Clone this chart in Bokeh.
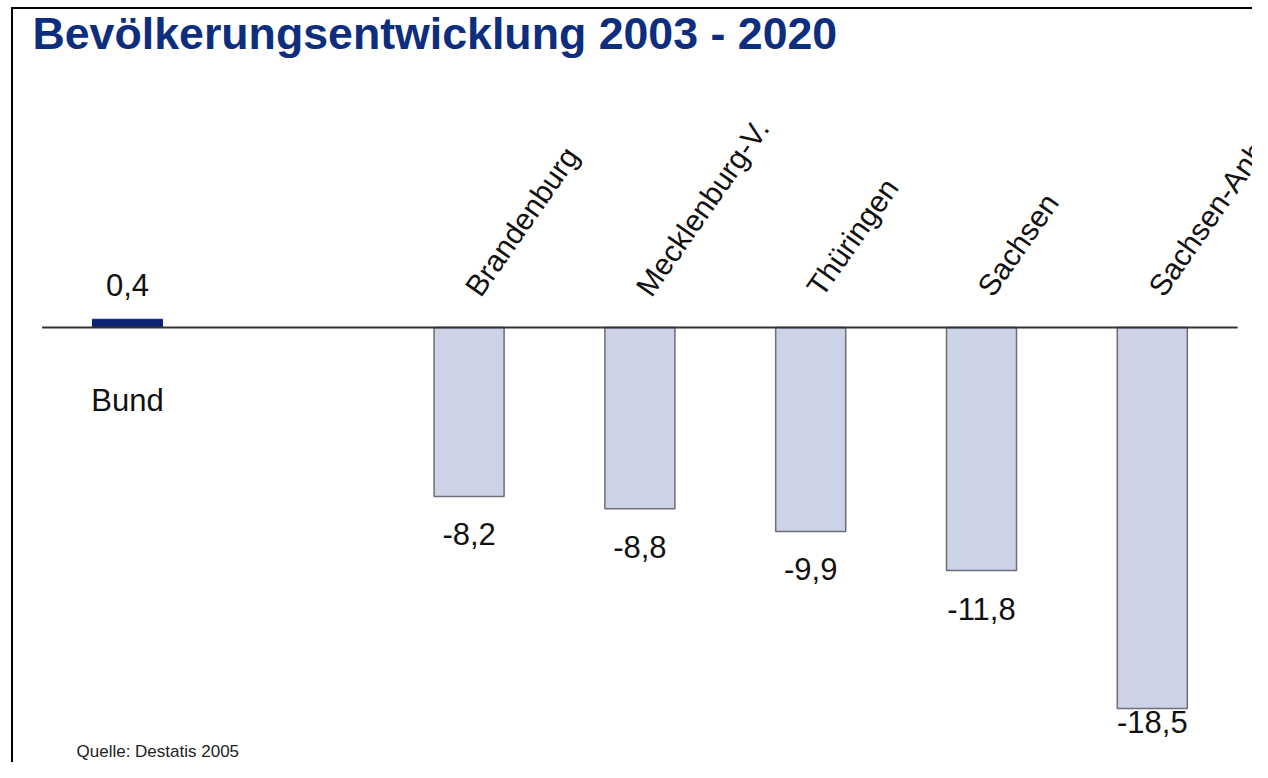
import math
from bokeh.plotting import figure
from bokeh.models import Label, ColumnDataSource
from bokeh.core.properties import value
from bokeh.embed import file_html
from bokeh.resources import INLINE

# ---- data ----
title_text = "Bevölkerungsentwicklung 2003 - 2020"
source_text = "Quelle: Destatis 2005"
national_name = ["Bund"]
national_value = [0.4]
state_names = ["Brandenburg", "Mecklenburg-V.", "Thüringen", "Sachsen", "Sachsen-Anhalt"]
state_values = [-8.2, -8.8, -9.9, -11.8, -18.5]

# ---- layout ----
W, H = 1252, 762
PXX = 170.8          # px per category slot
PXY = 20.6           # px per percent
ZERO_X = 127         # px of first slot centre
ZERO_Y = 327         # px of zero line
X0 = -ZERO_X / PXX
X1 = X0 + W / PXX
Y1 = ZERO_Y / PXY
Y0 = -(H - ZERO_Y) / PXY


def px_x(cx):
    return X0 + cx / PXX


def px_y(cy):
    return Y1 - cy / PXY


FONT = "Liberation Sans"

p = figure(width=W, height=H, x_range=(X0, X1), y_range=(Y0, Y1),
           min_border=0, toolbar_location=None, output_backend="svg",
           x_axis_location=None, y_axis_location=None)
p.grid.visible = False
p.outline_line_color = None
p.background_fill_color = "white"
p.border_fill_color = "white"

# positions: national bar first, one empty slot, then states
nat_x = [0]
state_x = [i + 2 for i in range(len(state_names))]

fmt = lambda v: f"{v:.1f}".replace(".", ",")

nat_src = ColumnDataSource(dict(x=nat_x, top=national_value, name=national_name,
                                lab=[fmt(v) for v in national_value]))
st_src = ColumnDataSource(dict(
    x=state_x, top=state_values, name=state_names,
    lab=[fmt(v) for v in state_values],
    ly=[max(v - 38 / PXY, -19.13) for v in state_values]))

# bars
p.vbar(x="x", top="top", bottom=0, width=0.41, source=st_src,
       fill_color="#cdd3e6", line_color="#6c6c7a", line_width=1.5)
p.vbar(x="x", top="top", bottom=0, width=0.41, source=nat_src,
       fill_color="#0b2473", line_color="#0b2473", line_width=1)

# zero line
p.segment(x0=[-0.5], y0=[0], x1=[6.5], y1=[0], line_color="#333333", line_width=2)

# frame lines (left, top)
p.segment(x0=[px_x(11.5), px_x(10.5)], y0=[px_y(7.5), px_y(7.5)],
          x1=[px_x(11.5), px_x(W + 5)], y1=[px_y(H + 5), px_y(7.5)],
          line_color="black", line_width=2)

# value labels
p.text(x="x", y="top", text="lab", source=nat_src, text_align="center",
       text_baseline="alphabetic", y_offset=-34, text_font=value(FONT),
       text_font_size="31px", text_color="#111111")
p.text(x="x", y="ly", text="lab", source=st_src, text_align="center",
       text_baseline="alphabetic", text_font=value(FONT),
       text_font_size="31px", text_color="#111111")

# category labels
p.text(x="x", y=0, text="name", source=nat_src, text_align="center",
       text_baseline="alphabetic", y_offset=73, text_font=value(FONT),
       text_font_size="31px", text_color="#111111")
p.text(x="x", y=0, text="name", source=st_src, text_align="left",
       text_baseline="alphabetic", x_offset=3, y_offset=-35,
       angle=math.radians(55),
       text_font=value(FONT), text_font_size="30px", text_color="#111111")

# title
p.add_layout(Label(x=px_x(32), y=px_y(33), text=title_text, text_font=FONT,
                   text_font_size="44.7px", text_font_style="bold",
                   text_color="#0d2d7e", text_baseline="alphabetic"))
# source
p.add_layout(Label(x=px_x(76), y=px_y(751), text=source_text, text_font=FONT,
                   text_font_size="17px", text_color="#222222",
                   text_baseline="alphabetic"))

open("out.html", "w").write(file_html(p, INLINE))
